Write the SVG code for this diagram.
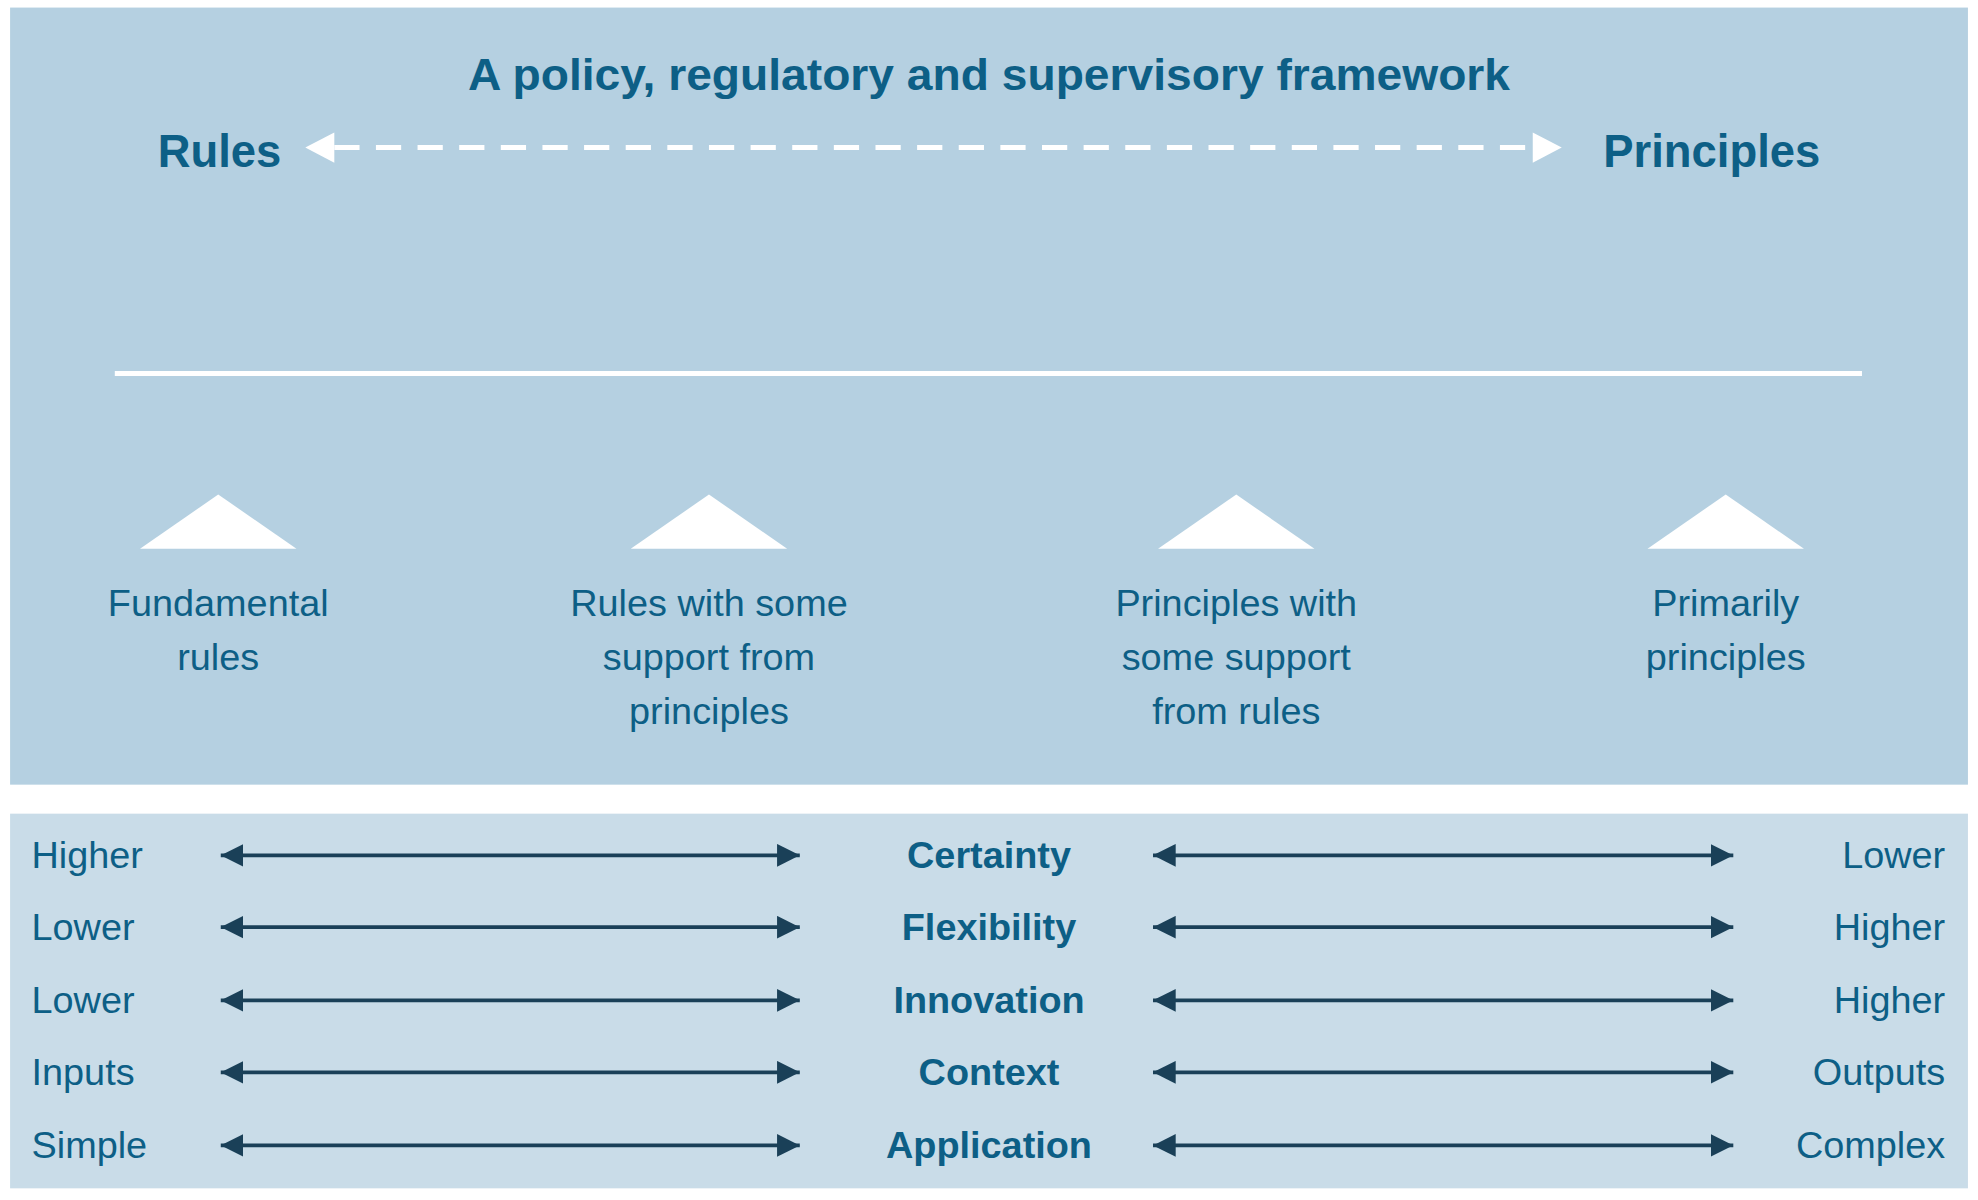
<svg xmlns="http://www.w3.org/2000/svg" width="1978" height="1200" viewBox="0 0 1978 1200">
<style>
.t{font-family:"Liberation Sans",Arial,sans-serif;fill:#0d5f86}
.b{font-weight:bold}
.lab{font-size:30px;text-anchor:middle}
.row{font-size:30px}
.ar{stroke:#1a4058;stroke-width:3;fill:none;marker-start:url(#da);marker-end:url(#da)}
</style>
<defs>
<marker id="da" viewBox="0 0 10 10" refX="10" refY="5" markerWidth="6" markerHeight="6" orient="auto-start-reverse" markerUnits="strokeWidth"><path d="M0,0 L10,5 L0,10 Z" fill="#1a4058"/></marker>
</defs>
<rect width="1978" height="1200" fill="#fff"/>
<g transform="scale(1.2615)">
<g id="top">
<rect x="8" y="6" width="1552" height="616" fill="#b5d0e1"/>
<text class="t b" x="784" y="71" font-size="35" text-anchor="middle" textLength="826" lengthAdjust="spacingAndGlyphs">A policy, regulatory and supervisory framework</text>
<text class="t b" x="125" y="132" font-size="36">Rules</text>
<text class="t b" x="1443" y="132" font-size="36" text-anchor="end">Principles</text>
</g>
<g id="bottom">
<rect x="8" y="645" width="1552" height="297" fill="#c9dce8"/>
<g class="t row">
<text x="25" y="688">Higher</text><text x="25" y="745">Lower</text><text x="25" y="803">Lower</text><text x="25" y="860">Inputs</text><text x="25" y="918">Simple</text>
</g>
<g class="t row" text-anchor="end">
<text x="1542" y="688">Lower</text><text x="1542" y="745">Higher</text><text x="1542" y="803">Higher</text><text x="1542" y="860">Outputs</text><text x="1542" y="918">Complex</text>
</g>
<g class="t row b" text-anchor="middle">
<text x="784" y="688">Certainty</text><text x="784" y="745">Flexibility</text><text x="784" y="803">Innovation</text><text x="784" y="860">Context</text><text x="784" y="918">Application</text>
</g>
</g>
<g id="connectors">
<line x1="265" y1="117" x2="1215" y2="117" stroke="#fff" stroke-width="4" stroke-dasharray="20,13"/>
<path d="M242,117 L265,105 L265,129 Z" fill="#fff"/>
<path d="M1238,117 L1215,105 L1215,129 Z" fill="#fff"/>
<line x1="91" y1="296" x2="1476" y2="296" stroke="#fff" stroke-width="4"/>
<line class="ar" x1="175" y1="678" x2="634" y2="678"/>
<line class="ar" x1="914" y1="678" x2="1374" y2="678"/>
<line class="ar" x1="175" y1="735" x2="634" y2="735"/>
<line class="ar" x1="914" y1="735" x2="1374" y2="735"/>
<line class="ar" x1="175" y1="793" x2="634" y2="793"/>
<line class="ar" x1="914" y1="793" x2="1374" y2="793"/>
<line class="ar" x1="175" y1="850" x2="634" y2="850"/>
<line class="ar" x1="914" y1="850" x2="1374" y2="850"/>
<line class="ar" x1="175" y1="908" x2="634" y2="908"/>
<line class="ar" x1="914" y1="908" x2="1374" y2="908"/>
</g>
<g id="n1"><path d="M111,435 L173,392 L235,435 Z" fill="#fff"/><text class="t lab"><tspan x="173" y="488">Fundamental</tspan><tspan x="173" y="531">rules</tspan></text></g>
<g id="n2"><path d="M500,435 L562,392 L624,435 Z" fill="#fff"/><text class="t lab"><tspan x="562" y="488">Rules with some</tspan><tspan x="562" y="531">support from</tspan><tspan x="562" y="574">principles</tspan></text></g>
<g id="n3"><path d="M918,435 L980,392 L1042,435 Z" fill="#fff"/><text class="t lab"><tspan x="980" y="488">Principles with</tspan><tspan x="980" y="531">some support</tspan><tspan x="980" y="574">from rules</tspan></text></g>
<g id="n4"><path d="M1306,435 L1368,392 L1430,435 Z" fill="#fff"/><text class="t lab"><tspan x="1368" y="488">Primarily</tspan><tspan x="1368" y="531">principles</tspan></text></g>
</g>
</svg>
